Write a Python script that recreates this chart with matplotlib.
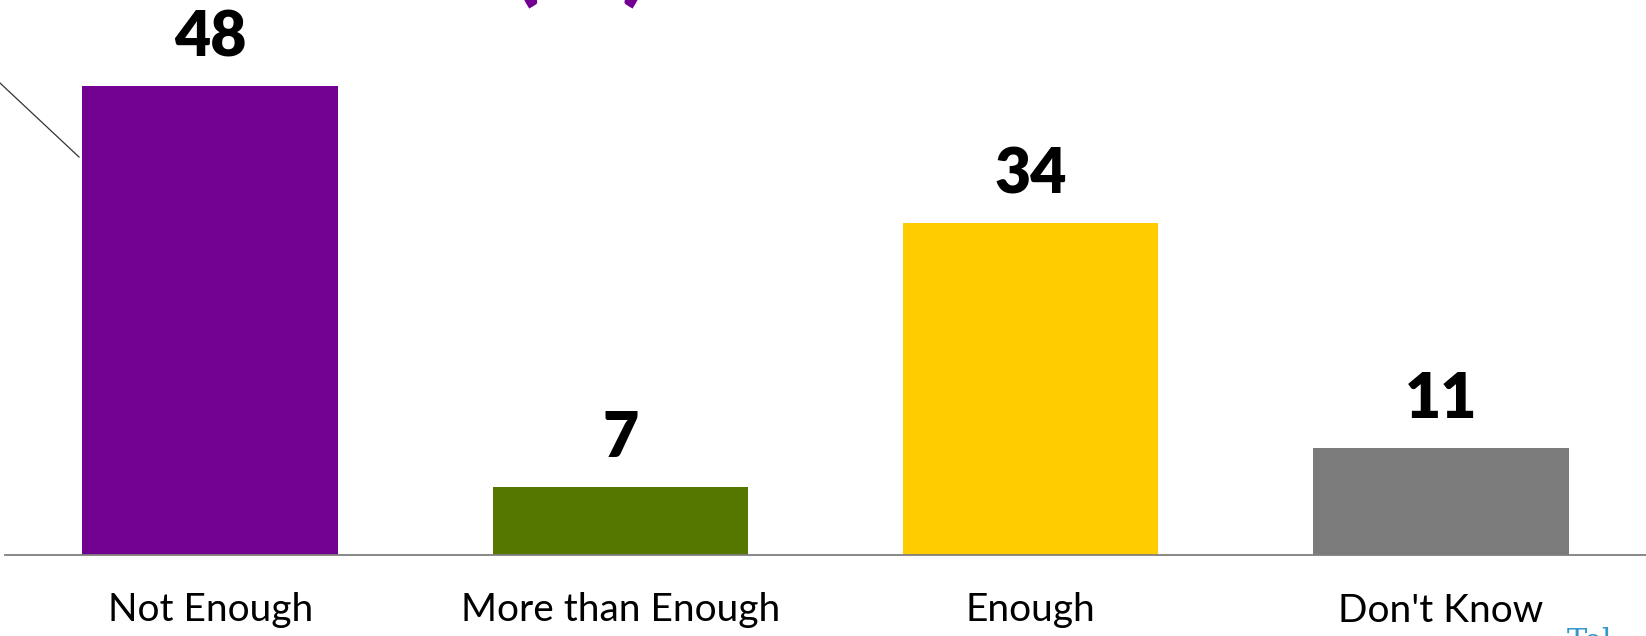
import matplotlib
matplotlib.use("Agg")
import matplotlib.pyplot as plt
from matplotlib.lines import Line2D

categories = ["Not Enough", "More than Enough", "Enough", "Don't Know"]
values = [48, 7, 34, 11]
colors = ["#720090", "#557700", "#FFCC00", "#7B7B7B"]

plt.rcParams['font.family'] = ['Lato', 'DejaVu Sans']

fig = plt.figure(figsize=(16.46, 6.36), dpi=100)
ax = fig.add_axes([5 / 1646, 81 / 636, 1 - 5 / 1646, 1 - 81 / 636])
x = range(len(categories))
bars = ax.bar(x, values, width=0.623, color=colors, zorder=2)
ax.set_xlim(-0.5, 3.5)
ax.set_ylim(0, 56.8)
for s in ["top", "right", "left"]:
    ax.spines[s].set_visible(False)
ax.spines["bottom"].set_color("#7f7f7f")
ax.spines["bottom"].set_linewidth(1.3)
ax.set_yticks([])
ax.set_xticks(list(x))
ax.set_xticklabels(categories, fontsize=28)
ax.tick_params(axis="x", length=0, pad=27)
for b, v in zip(bars, values):
    ax.annotate(str(v), (b.get_x() + b.get_width() / 2, v), xytext=(0, 14),
                textcoords="offset points", ha="center", va="bottom",
                fontsize=45, fontweight="heavy", color="black")

# decorative slide remnants
fig.add_artist(Line2D([0, 79 / 1646], [1 - 83 / 636, 1 - 157 / 636],
                      color="#333333", lw=0.9))
fig.text(581 / 1646, 1 + 10 / 636, "(   )", ha="center", va="baseline",
         fontsize=80, fontweight="bold", color="#720090")
fig.text(1590 / 1646, 1 - 651 / 636, "Tel", ha="center", va="baseline",
         fontsize=22, family="DejaVu Serif", color="#3399CC")

fig.savefig("out.png", dpi=100)
